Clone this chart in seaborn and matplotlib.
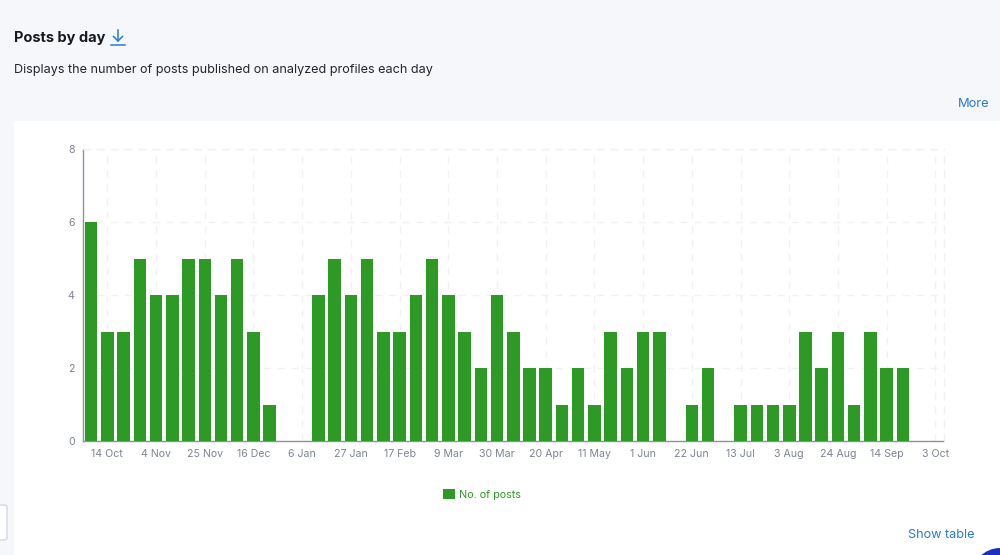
"""
Posts by day, weekly bars on a dashboard panel.
"""

import matplotlib.pyplot as plt
from matplotlib.lines import Line2D
from matplotlib.patches import Ellipse, FancyBboxPatch, Rectangle
import pandas as pd
import seaborn as sns

weeks = [
    "7 Oct", "14 Oct", "21 Oct", "28 Oct", "4 Nov", "11 Nov", "18 Nov", "25 Nov",
    "2 Dec", "9 Dec", "16 Dec", "23 Dec", "30 Dec", "6 Jan", "13 Jan", "20 Jan",
    "27 Jan", "3 Feb", "10 Feb", "17 Feb", "24 Feb", "2 Mar", "9 Mar", "16 Mar",
    "23 Mar", "30 Mar", "6 Apr", "13 Apr", "20 Apr", "27 Apr", "4 May", "11 May",
    "18 May", "25 May", "1 Jun", "8 Jun", "15 Jun", "22 Jun", "29 Jun", "6 Jul",
    "13 Jul", "20 Jul", "27 Jul", "3 Aug", "10 Aug", "17 Aug", "24 Aug", "31 Aug",
    "7 Sep", "14 Sep", "21 Sep", "28 Sep", "3 Oct",
]
posts = [
    6, 3, 3, 5, 4, 4, 5, 5, 4, 5, 3, 1, 0, 0, 4, 5, 4, 5, 3, 3, 4, 5, 4, 3, 2, 4, 3,
    2, 2, 1, 2, 1, 3, 2, 3, 3, 0, 1, 2, 0, 1, 1, 1, 1, 3, 2, 3, 1, 3, 2, 2, 0, 0,
]
y_ticks = [0, 2, 4, 6, 8]

W, H = 1000, 555
BG = "#f6f7fa"
GREEN = "#2c9a24"
BLUE = "#2a7ad3"
GREY = "#7d8590"
GRID = "#f0f1f4"
DASH = (0, (5, 5))

plt.rcParams["font.family"] = ["Inter", "DejaVu Sans"]

fig = plt.figure(figsize=(W / 100, H / 100), dpi=100, facecolor=BG)


def px(x, y):
    return x / W, 1 - y / H


# white panel behind the chart
fig.add_artist(FancyBboxPatch(px(14, 700), 1100 / W, 579 / H,
                              boxstyle="round,pad=0,rounding_size=0.004",
                              transform=fig.transFigure, fc="white", ec="none", zorder=-1))

ax = fig.add_axes([83 / W, 1 - 441 / H, 860.5 / W, 292 / H])
ax.set_facecolor("none")
df = pd.DataFrame({"week": weeks, "posts": posts})
sns.barplot(df, x="week", y="posts", color=GREEN, saturation=1, width=0.77, ax=ax, zorder=3)

ax.set_xlim(-0.5, len(weeks) - 0.5)
ax.set_ylim(0, 8)
ax.set_xlabel("")
ax.set_ylabel("")
tick_pos = list(range(1, len(weeks), 3))
ax.set_xticks(tick_pos, [weeks[i] for i in tick_pos])
ax.set_yticks(y_ticks)
ax.tick_params(axis="both", length=0, labelsize=7.6, labelcolor=GREY)
ax.tick_params(axis="x", pad=6)
ax.tick_params(axis="y", pad=6)
ax.grid(True, color=GRID, linestyle=DASH, linewidth=1, zorder=0)
ax.set_axisbelow(True)
ax.spines["top"].set(color=GRID, linestyle=DASH, linewidth=1)
ax.spines["right"].set(color=GRID, linestyle=DASH, linewidth=1)
ax.spines["left"].set(color="#8a93a0", linewidth=1)
ax.spines["bottom"].set(color="#8a93a0", linewidth=1)

# legend
fig.add_artist(Rectangle(px(442.5, 499), 12.5 / W, 10 / H, transform=fig.transFigure, fc=GREEN, ec="none"))
fig.text(*px(459, 494.5), "No. of posts", color=GREEN, fontsize=7.8, va="center", ha="left")

# header
fig.text(*px(14.5, 38), "Posts by day", color="#16191f", fontsize=10.5, fontweight="bold", va="center")
fig.text(*px(14.5, 69.5), "Displays the number of posts published on analyzed profiles each day",
         color="#22262c", fontsize=9.1, va="center")
fig.text(*px(989.5, 104), "More", color=BLUE, fontsize=9.3, va="center", ha="right")
fig.text(*px(974.5, 535), "Show table", color=BLUE, fontsize=9.1, va="center", ha="right")

# download icon
for xs, ys in [((118, 118), (30, 41)), ((113.5, 118, 122.5), (36.5, 41, 36.5)), ((111, 125), (44.5, 44.5))]:
    fig.add_artist(Line2D([x / W for x in xs], [1 - y / H for y in ys],
                          transform=fig.transFigure, color=BLUE, linewidth=1.1))

# clipped page widgets
fig.add_artist(FancyBboxPatch(px(-8, 540), 15 / W, 35 / H,
                              boxstyle="round,pad=0,rounding_size=0.004",
                              transform=fig.transFigure, fc="white", ec="#d5d8de", linewidth=1))
fig.add_artist(Ellipse(px(1000, 576), 56 / W, 56 / H, transform=fig.transFigure, fc="#1a2fc4", ec="none"))

fig.savefig("out.png", dpi=100, facecolor=BG)
